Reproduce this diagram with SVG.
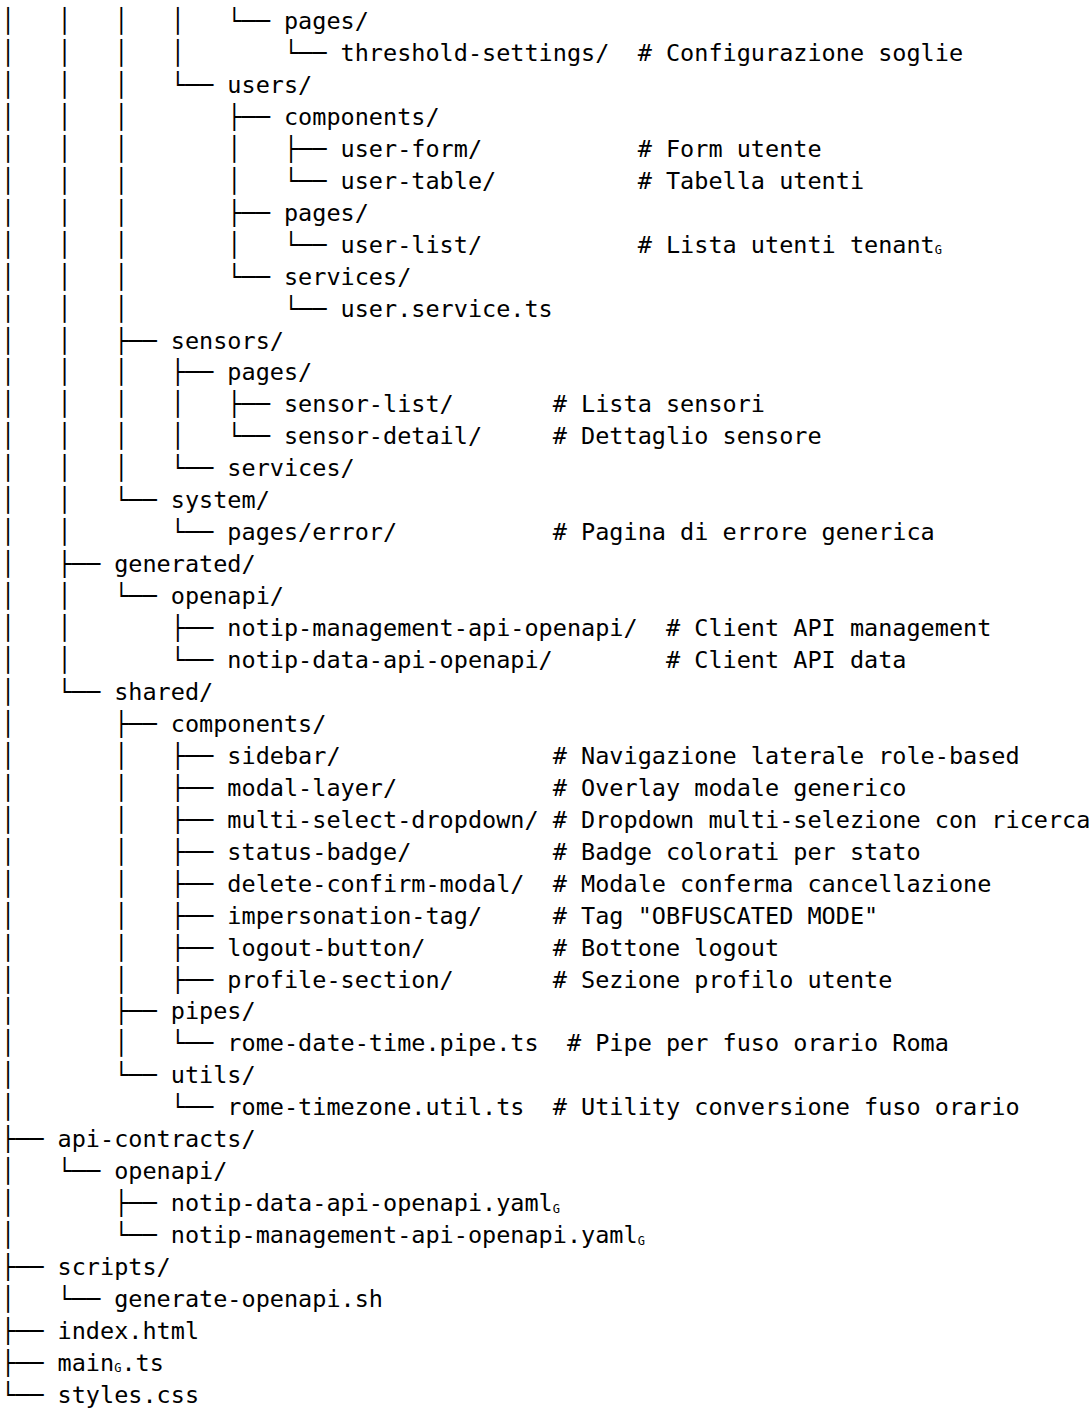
<svg xmlns="http://www.w3.org/2000/svg" width="1089" height="1409" viewBox="0 0 1089 1409">
<style>
  text { font-family: "DejaVu Sans Mono", "Liberation Mono", monospace; font-size: 23.5px; fill: #000; white-space: pre; }
  .sub { font-size: 12px; }
</style>
<rect x="0" y="0" width="1089" height="1409" fill="#fff"/>
<!-- tree branches: one text run per row, monospace grid of 14.148px columns (padding uses no-break spaces) -->
<g id="connectors">
<text x="1" y="29">│&#160;&#160;&#160;│&#160;&#160;&#160;│&#160;&#160;&#160;│&#160;&#160;&#160;└──</text>
<text x="1" y="60.95">│&#160;&#160;&#160;│&#160;&#160;&#160;│&#160;&#160;&#160;│&#160;&#160;&#160;&#160;&#160;&#160;&#160;└──</text>
<text x="1" y="92.9">│&#160;&#160;&#160;│&#160;&#160;&#160;│&#160;&#160;&#160;└──</text>
<text x="1" y="124.85">│&#160;&#160;&#160;│&#160;&#160;&#160;│&#160;&#160;&#160;&#160;&#160;&#160;&#160;├──</text>
<text x="1" y="156.8">│&#160;&#160;&#160;│&#160;&#160;&#160;│&#160;&#160;&#160;&#160;&#160;&#160;&#160;│&#160;&#160;&#160;├──</text>
<text x="1" y="188.75">│&#160;&#160;&#160;│&#160;&#160;&#160;│&#160;&#160;&#160;&#160;&#160;&#160;&#160;│&#160;&#160;&#160;└──</text>
<text x="1" y="220.7">│&#160;&#160;&#160;│&#160;&#160;&#160;│&#160;&#160;&#160;&#160;&#160;&#160;&#160;├──</text>
<text x="1" y="252.65">│&#160;&#160;&#160;│&#160;&#160;&#160;│&#160;&#160;&#160;&#160;&#160;&#160;&#160;│&#160;&#160;&#160;└──</text>
<text x="1" y="284.6">│&#160;&#160;&#160;│&#160;&#160;&#160;│&#160;&#160;&#160;&#160;&#160;&#160;&#160;└──</text>
<text x="1" y="316.55">│&#160;&#160;&#160;│&#160;&#160;&#160;│&#160;&#160;&#160;&#160;&#160;&#160;&#160;&#160;&#160;&#160;&#160;└──</text>
<text x="1" y="348.5">│&#160;&#160;&#160;│&#160;&#160;&#160;├──</text>
<text x="1" y="380.45">│&#160;&#160;&#160;│&#160;&#160;&#160;│&#160;&#160;&#160;├──</text>
<text x="1" y="412.4">│&#160;&#160;&#160;│&#160;&#160;&#160;│&#160;&#160;&#160;│&#160;&#160;&#160;├──</text>
<text x="1" y="444.35">│&#160;&#160;&#160;│&#160;&#160;&#160;│&#160;&#160;&#160;│&#160;&#160;&#160;└──</text>
<text x="1" y="476.3">│&#160;&#160;&#160;│&#160;&#160;&#160;│&#160;&#160;&#160;└──</text>
<text x="1" y="508.25">│&#160;&#160;&#160;│&#160;&#160;&#160;└──</text>
<text x="1" y="540.2">│&#160;&#160;&#160;│&#160;&#160;&#160;&#160;&#160;&#160;&#160;└──</text>
<text x="1" y="572.15">│&#160;&#160;&#160;├──</text>
<text x="1" y="604.1">│&#160;&#160;&#160;│&#160;&#160;&#160;└──</text>
<text x="1" y="636.05">│&#160;&#160;&#160;│&#160;&#160;&#160;&#160;&#160;&#160;&#160;├──</text>
<text x="1" y="668">│&#160;&#160;&#160;│&#160;&#160;&#160;&#160;&#160;&#160;&#160;└──</text>
<text x="1" y="699.95">│&#160;&#160;&#160;└──</text>
<text x="1" y="731.9">│&#160;&#160;&#160;&#160;&#160;&#160;&#160;├──</text>
<text x="1" y="763.85">│&#160;&#160;&#160;&#160;&#160;&#160;&#160;│&#160;&#160;&#160;├──</text>
<text x="1" y="795.8">│&#160;&#160;&#160;&#160;&#160;&#160;&#160;│&#160;&#160;&#160;├──</text>
<text x="1" y="827.75">│&#160;&#160;&#160;&#160;&#160;&#160;&#160;│&#160;&#160;&#160;├──</text>
<text x="1" y="859.7">│&#160;&#160;&#160;&#160;&#160;&#160;&#160;│&#160;&#160;&#160;├──</text>
<text x="1" y="891.65">│&#160;&#160;&#160;&#160;&#160;&#160;&#160;│&#160;&#160;&#160;├──</text>
<text x="1" y="923.6">│&#160;&#160;&#160;&#160;&#160;&#160;&#160;│&#160;&#160;&#160;├──</text>
<text x="1" y="955.55">│&#160;&#160;&#160;&#160;&#160;&#160;&#160;│&#160;&#160;&#160;├──</text>
<text x="1" y="987.5">│&#160;&#160;&#160;&#160;&#160;&#160;&#160;│&#160;&#160;&#160;├──</text>
<text x="1" y="1019.45">│&#160;&#160;&#160;&#160;&#160;&#160;&#160;├──</text>
<text x="1" y="1051.4">│&#160;&#160;&#160;&#160;&#160;&#160;&#160;│&#160;&#160;&#160;└──</text>
<text x="1" y="1083.35">│&#160;&#160;&#160;&#160;&#160;&#160;&#160;└──</text>
<text x="1" y="1115.3">│&#160;&#160;&#160;&#160;&#160;&#160;&#160;&#160;&#160;&#160;&#160;└──</text>
<text x="1" y="1147.25">├──</text>
<text x="1" y="1179.2">│&#160;&#160;&#160;└──</text>
<text x="1" y="1211.15">│&#160;&#160;&#160;&#160;&#160;&#160;&#160;├──</text>
<text x="1" y="1243.1">│&#160;&#160;&#160;&#160;&#160;&#160;&#160;└──</text>
<text x="1" y="1275.05">├──</text>
<text x="1" y="1307">│&#160;&#160;&#160;└──</text>
<text x="1" y="1338.95">├──</text>
<text x="1" y="1370.9">├──</text>
<text x="1" y="1402.85">└──</text>
</g>
<!-- entries: name at its column, comment aligned to its group's column -->
<g id="dir-alerts-pages"><text x="283.96" y="29">pages/</text></g>
<g id="dir-threshold-settings"><text x="340.55" y="60.95">threshold-settings/</text><text x="637.66" y="60.95"># Configurazione soglie</text></g>
<g id="dir-users"><text x="227.37" y="92.9">users/</text></g>
<g id="dir-users-components"><text x="283.96" y="124.85">components/</text></g>
<g id="dir-user-form"><text x="340.55" y="156.8">user-form/</text><text x="637.66" y="156.8"># Form utente</text></g>
<g id="dir-user-table"><text x="340.55" y="188.75">user-table/</text><text x="637.66" y="188.75"># Tabella utenti</text></g>
<g id="dir-users-pages"><text x="283.96" y="220.7">pages/</text></g>
<g id="dir-user-list"><text x="340.55" y="252.65">user-list/</text><text x="637.66" y="252.65"># Lista utenti tenant<tspan class="sub" dy="1.5">G</tspan></text></g>
<g id="dir-users-services"><text x="283.96" y="284.6">services/</text></g>
<g id="file-user-service"><text x="340.55" y="316.55">user.service.ts</text></g>
<g id="dir-sensors"><text x="170.78" y="348.5">sensors/</text></g>
<g id="dir-sensors-pages"><text x="227.37" y="380.45">pages/</text></g>
<g id="dir-sensor-list"><text x="283.96" y="412.4">sensor-list/</text><text x="552.77" y="412.4"># Lista sensori</text></g>
<g id="dir-sensor-detail"><text x="283.96" y="444.35">sensor-detail/</text><text x="552.77" y="444.35"># Dettaglio sensore</text></g>
<g id="dir-sensors-services"><text x="227.37" y="476.3">services/</text></g>
<g id="dir-system"><text x="170.78" y="508.25">system/</text></g>
<g id="dir-pages-error"><text x="227.37" y="540.2">pages/error/</text><text x="552.77" y="540.2"># Pagina di errore generica</text></g>
<g id="dir-generated"><text x="114.18" y="572.15">generated/</text></g>
<g id="dir-generated-openapi"><text x="170.78" y="604.1">openapi/</text></g>
<g id="dir-management-client"><text x="227.37" y="636.05">notip-management-api-openapi/</text><text x="665.96" y="636.05"># Client API management</text></g>
<g id="dir-data-client"><text x="227.37" y="668">notip-data-api-openapi/</text><text x="665.96" y="668"># Client API data</text></g>
<g id="dir-shared"><text x="114.18" y="699.95">shared/</text></g>
<g id="dir-shared-components"><text x="170.78" y="731.9">components/</text></g>
<g id="dir-sidebar"><text x="227.37" y="763.85">sidebar/</text><text x="552.77" y="763.85"># Navigazione laterale role-based</text></g>
<g id="dir-modal-layer"><text x="227.37" y="795.8">modal-layer/</text><text x="552.77" y="795.8"># Overlay modale generico</text></g>
<g id="dir-multi-select-dropdown"><text x="227.37" y="827.75">multi-select-dropdown/</text><text x="552.77" y="827.75"># Dropdown multi-selezione con ricerca</text></g>
<g id="dir-status-badge"><text x="227.37" y="859.7">status-badge/</text><text x="552.77" y="859.7"># Badge colorati per stato</text></g>
<g id="dir-delete-confirm-modal"><text x="227.37" y="891.65">delete-confirm-modal/</text><text x="552.77" y="891.65"># Modale conferma cancellazione</text></g>
<g id="dir-impersonation-tag"><text x="227.37" y="923.6">impersonation-tag/</text><text x="552.77" y="923.6"># Tag "OBFUSCATED MODE"</text></g>
<g id="dir-logout-button"><text x="227.37" y="955.55">logout-button/</text><text x="552.77" y="955.55"># Bottone logout</text></g>
<g id="dir-profile-section"><text x="227.37" y="987.5">profile-section/</text><text x="552.77" y="987.5"># Sezione profilo utente</text></g>
<g id="dir-pipes"><text x="170.78" y="1019.45">pipes/</text></g>
<g id="file-rome-date-time-pipe"><text x="227.37" y="1051.4">rome-date-time.pipe.ts</text><text x="566.92" y="1051.4"># Pipe per fuso orario Roma</text></g>
<g id="dir-utils"><text x="170.78" y="1083.35">utils/</text></g>
<g id="file-rome-timezone-util"><text x="227.37" y="1115.3">rome-timezone.util.ts</text><text x="552.77" y="1115.3"># Utility conversione fuso orario</text></g>
<g id="dir-api-contracts"><text x="57.59" y="1147.25">api-contracts/</text></g>
<g id="dir-contracts-openapi"><text x="114.18" y="1179.2">openapi/</text></g>
<g id="file-data-api-yaml"><text x="170.78" y="1211.15">notip-data-api-openapi.yaml<tspan class="sub" dy="1.5">G</tspan></text></g>
<g id="file-management-api-yaml"><text x="170.78" y="1243.1">notip-management-api-openapi.yaml<tspan class="sub" dy="1.5">G</tspan></text></g>
<g id="dir-scripts"><text x="57.59" y="1275.05">scripts/</text></g>
<g id="file-generate-openapi"><text x="114.18" y="1307">generate-openapi.sh</text></g>
<g id="file-index-html"><text x="57.59" y="1338.95">index.html</text></g>
<g id="file-main-ts"><text x="57.59" y="1370.9">main<tspan class="sub" dy="1.5">G</tspan><tspan dy="-1.5">.ts</tspan></text></g>
<g id="file-styles-css"><text x="57.59" y="1402.85">styles.css</text></g>
</svg>
